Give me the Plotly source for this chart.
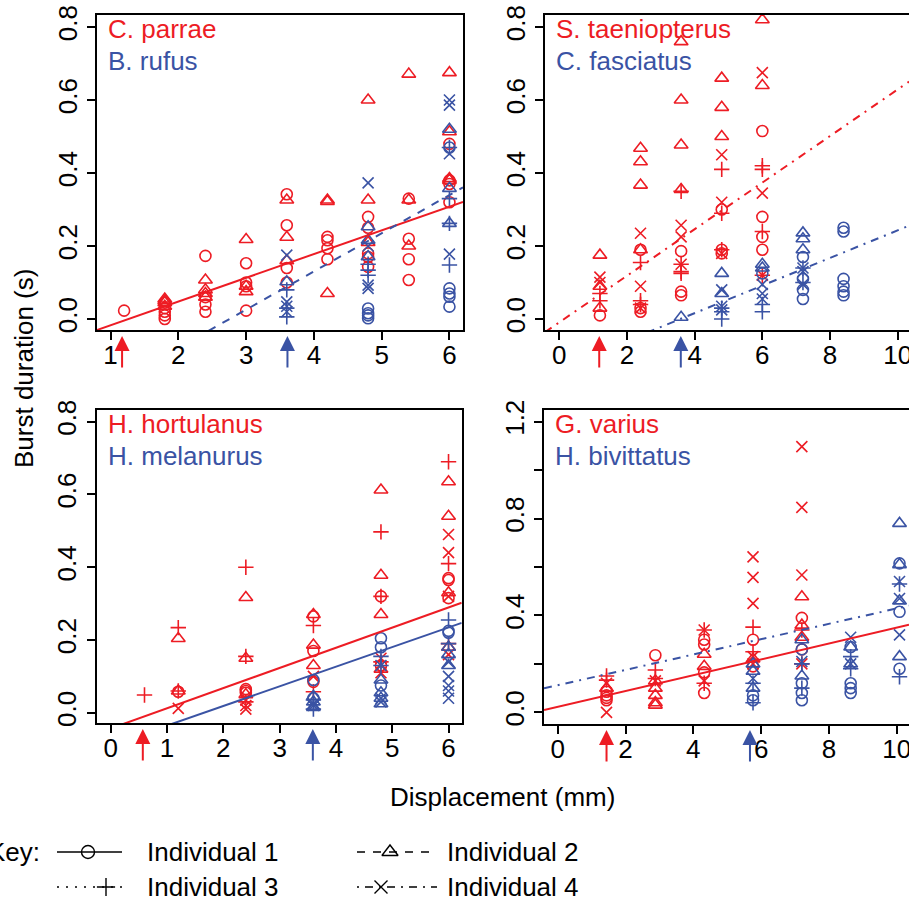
import plotly.graph_objects as go

W, H = 909, 903
RED = "#ED1C24"
BLUE = "#3A53A4"
FONT = "Liberation Sans, Arial, Helvetica, sans-serif"
FS = 26

# ---------------- data ----------------
# Panel 1: C. parrae (red) / B. rufus (blue)
P1_X = [1.2, 1.8, 2.4, 3.0, 3.6, 4.2, 4.8, 5.4, 6.0]
parrae_i1 = [[0.023], [0.0, 0.01, 0.02, 0.03, 0.045], [0.173, 0.06, 0.04, 0.02], [0.153, 0.1, 0.09, 0.023],
             [0.342, 0.257, 0.14, 0.1], [0.225, 0.216, 0.194, 0.164], [0.28, 0.25, 0.18, 0.143, 0.17],
             [0.33, 0.22, 0.164, 0.107], [0.48, 0.38, 0.32, 0.37]]
parrae_i2 = [[], [0.055, 0.045, 0.035, 0.05], [0.107, 0.08, 0.06, 0.07], [0.218, 0.09, 0.075],
             [0.326, 0.224, 0.16], [0.326, 0.322, 0.07], [0.6, 0.326, 0.21], [0.671, 0.326, 0.2],
             [0.675, 0.513, 0.38, 0.385]]
parrae_i3 = [[], [], [], [], [], [], [], [], []]
parrae_i4 = [[], [], [], [], [], [], [], [], []]
rufus_i1 = [[], [], [], [], [], [], [0.029, 0.016, 0.002, 0.01], [], [0.47, 0.084, 0.07, 0.061, 0.034]]
rufus_i2 = [[], [], [], [], [0.102], [], [0.253, 0.216, 0.171], [], [0.52, 0.358, 0.262]]
rufus_i3 = [[], [], [], [], [0.08, 0.006, 0.03], [], [0.134, 0.12, 0.15], [], [0.47, 0.33, 0.148, 0.262]]
rufus_i4 = [[], [], [], [], [0.175, 0.047, 0.035, 0.02], [], [0.373, 0.093, 0.084, 0.2], [],
            [0.6, 0.586, 0.453, 0.178]]

# Panel 2: S. taeniopterus (red) / C. fasciatus (blue)
P2_X = [1.2, 2.4, 3.6, 4.8, 6.0, 7.2, 8.4]
taenio_i1 = [[0.01], [0.02, 0.03, 0.19], [0.186, 0.075, 0.065], [0.3, 0.19, 0.18], [0.515, 0.28, 0.225, 0.19], [], []]
taenio_i2 = [[0.175, 0.09, 0.03], [0.468, 0.431, 0.367, 0.19], [0.76, 0.6, 0.477, 0.355], [0.66, 0.58, 0.5],
             [0.82, 0.64], [], []]
taenio_i3 = [[0.07, 0.05], [0.155, 0.05, 0.04], [0.35, 0.15, 0.125, 0.13], [0.41, 0.29, 0.19],
             [0.42, 0.41, 0.24, 0.12], [], []]
taenio_i4 = [[0.115, 0.1], [0.235, 0.09, 0.03], [0.257, 0.225, 0.15], [0.45, 0.32, 0.18], [0.675, 0.345, 0.12], [], []]
fasc_i1 = [[], [], [], [], [0.125], [0.17, 0.11, 0.08, 0.055], [0.25, 0.24, 0.11, 0.09, 0.075, 0.065]]
fasc_i2 = [[], [], [0.005], [0.125, 0.07], [0.15, 0.14], [0.236, 0.22, 0.19], []]
fasc_i3 = [[], [], [], [0.03, 0.02, 0.0], [0.04, 0.02], [0.14, 0.1], []]
fasc_i4 = [[], [], [], [0.08, 0.035, 0.025], [0.095, 0.07, 0.055], [0.14, 0.13, 0.095], []]

# Panel 3: H. hortulanus (red) / H. melanurus (blue)
P3_X = [0.6, 1.2, 2.4, 3.6, 4.8, 6.0]
hort_i1 = [[], [0.058], [0.065, 0.06, 0.055], [0.265, 0.17, 0.085], [0.32, 0.13], [0.37, 0.365, 0.315]]
hort_i2 = [[], [0.204, 0.06], [0.317, 0.15, 0.05], [0.27, 0.186, 0.13], [0.612, 0.378, 0.27, 0.12],
           [0.635, 0.54, 0.33, 0.18]]
hort_i3 = [[0.049], [0.234, 0.06], [0.40, 0.155, 0.03], [0.24, 0.058], [0.497, 0.32, 0.14], [0.69, 0.41, 0.19]]
hort_i4 = [[], [0.012], [0.035, 0.02, 0.01], [0.1], [0.15, 0.11], [0.49, 0.44, 0.32, 0.16]]
mel_i1 = [[], [], [], [0.09, 0.04], [0.205, 0.18, 0.075], [0.225, 0.22]]
mel_i2 = [[], [], [], [0.045, 0.03, 0.015], [0.09, 0.055, 0.04, 0.025], [0.18, 0.16, 0.13]]
mel_i3 = [[], [], [], [0.035, 0.01], [0.155, 0.13], [0.255, 0.19]]
mel_i4 = [[], [], [], [0.025, 0.02], [0.13, 0.04, 0.03], [0.14, 0.1, 0.075, 0.06, 0.04]]

# Panel 4: G. varius (red) / H. bivittatus (blue)
P4_X = [1.44, 2.88, 4.32, 5.76, 7.2, 8.64, 10.08]
var_i1 = [[0.085, 0.07, 0.06, 0.05], [0.236], [0.3, 0.28, 0.165, 0.08], [0.3, 0.19], [0.39, 0.26], [], []]
var_i2 = [[0.1], [0.13, 0.1, 0.07, 0.04, 0.03], [0.24, 0.19], [0.22], [0.477, 0.36, 0.31], [], []]
var_i3 = [[0.133, 0.15], [0.175, 0.14], [0.34, 0.12], [0.352, 0.25], [0.34, 0.2], [], []]
var_i4 = [[0.12, 0.0], [0.13], [0.34, 0.13], [0.642, 0.557, 0.45, 0.23, 0.2], [1.097, 0.846, 0.567, 0.2], [], []]
biv_i1 = [[], [], [], [0.07, 0.05], [0.26, 0.12, 0.08, 0.05], [0.27, 0.12, 0.1, 0.08], [0.615, 0.415, 0.18]]
biv_i2 = [[], [], [], [0.2, 0.17, 0.1], [0.3, 0.15], [0.27, 0.2], [0.78, 0.61, 0.46, 0.23]]
biv_i3 = [[], [], [], [0.04, 0.12], [0.2, 0.1], [0.18, 0.23], [0.53, 0.147]]
biv_i4 = [[], [], [], [0.14], [0.21], [0.31, 0.2], [0.54, 0.47, 0.32]]

# regression lines (intercept, slope)
fit_parrae, fit_rufus = (-0.082, 0.065), (-0.288, 0.1046)
fit_taenio, fit_fasc = (-0.009, 0.0638), (-0.135, 0.0378)
fit_hort, fit_mel = (-0.043, 0.0554), (-0.089, 0.0539)
fit_var, fit_biv = (0.0226, 0.0327), (0.112, 0.0317)

# arrow positions (red, blue)
arrows_p1 = (1.17, 3.61)
arrows_p2 = (1.18, 3.59)
arrows_p3 = (0.57, 3.59)
arrows_p4 = (1.44, 5.67)

species_names = [("C. parrae", "B. rufus"), ("S. taeniopterus", "C. fasciatus"),
                 ("H. hortulanus", "H. melanurus"), ("G. varius", "H. bivittatus")]
key_labels = ["Individual 1", "Individual 2", "Individual 3", "Individual 4"]

# ---------------- layout geometry (pixels) ----------------
def px(v):
    return v / W

def py(v):
    return 1 - v / H

panels = [
    dict(xd=[px(97), px(463)], yd=[py(330), py(15)], xr=[0.8, 6.2], yr=[-0.030, 0.833],
         xt=[1, 2, 3, 4, 5, 6], yt=[0, 0.2, 0.4, 0.6, 0.8], ytt=["0.0", "0.2", "0.4", "0.6", "0.8"],
         right=True),
    dict(xd=[px(545), 1.0], yd=[py(330), py(15)], xr=[-0.4226, 10.334], yr=[-0.030, 0.833],
         xt=[0, 2, 4, 6, 8, 10], yt=[0, 0.2, 0.4, 0.6, 0.8], ytt=["0.0", "0.2", "0.4", "0.6", "0.8"],
         right=False),
    dict(xd=[px(96.7), px(461.7)], yd=[py(723), py(410)], xr=[-0.249, 6.234], yr=[-0.028, 0.832],
         xt=[0, 1, 2, 3, 4, 5, 6], yt=[0, 0.2, 0.4, 0.6, 0.8], ytt=["0.0", "0.2", "0.4", "0.6", "0.8"],
         right=True),
    dict(xd=[px(544), 1.0], yd=[py(724), py(410)], xr=[-0.404, 10.36], yr=[-0.048, 1.248],
         xt=[0, 2, 4, 6, 8, 10], yt=[0, 0.2, 0.4, 0.6, 0.8, 1.0, 1.2],
         ytt=["0.0", "", "0.4", "", "0.8", "", "1.2"], right=False),
]

series = [
    (P1_X, [parrae_i1, parrae_i2, parrae_i3, parrae_i4], [rufus_i1, rufus_i2, rufus_i3, rufus_i4],
     fit_parrae, fit_rufus, "solid", "8px,8px", arrows_p1),
    (P2_X, [taenio_i1, taenio_i2, taenio_i3, taenio_i4], [fasc_i1, fasc_i2, fasc_i3, fasc_i4],
     fit_taenio, fit_fasc, "8px,6px,2px,6px", "8px,6px,2px,6px", arrows_p2),
    (P3_X, [hort_i1, hort_i2, hort_i3, hort_i4], [mel_i1, mel_i2, mel_i3, mel_i4],
     fit_hort, fit_mel, "solid", "solid", arrows_p3),
    (P4_X, [var_i1, var_i2, var_i3, var_i4], [biv_i1, biv_i2, biv_i3, biv_i4],
     fit_var, fit_biv, "solid", "8px,6px,2px,6px", arrows_p4),
]

SYMBOLS = ["circle-open", "triangle-up-open", "cross-thin-open", "x-thin-open"]
SIZES = [11, 12, 11, 11]

fig = go.Figure()

def expand(cols, groups):
    xs, ys = [], []
    for xv, g in zip(cols, groups):
        for yv in g:
            xs.append(xv)
            ys.append(yv)
    return xs, ys

annotations = []
for i, (p, s) in enumerate(zip(panels, series)):
    n = "" if i == 0 else str(i + 1)
    xa, ya = "x" + n, "y" + n
    cols, reds, blues, fr, fb, dr, db, arr = s
    for color, groups in ((RED, reds), (BLUE, blues)):
        for k, g in enumerate(groups):
            xs, ys = expand(cols, g)
            if not xs:
                continue
            fig.add_trace(go.Scatter(
                x=xs, y=ys, mode="markers", xaxis=xa, yaxis=ya, showlegend=False,
                marker=dict(symbol=SYMBOLS[k], size=SIZES[k], color=color,
                            line=dict(color=color, width=1.6))))
    for color, fit, dash in ((RED, fr, dr), (BLUE, fb, db)):
        x0, x1 = p["xr"]
        fig.add_trace(go.Scatter(
            x=[x0, x1], y=[fit[0] + fit[1] * x0, fit[0] + fit[1] * x1], mode="lines",
            xaxis=xa, yaxis=ya, showlegend=False,
            line=dict(color=color, width=2, dash=dash)))
    # arrows below the x axis (tip 7 px under the axis line)
    bottom_px = (1 - p["yd"][0]) * H
    for color, xv in ((RED, arr[0]), (BLUE, arr[1])):
        annotations.append(dict(x=xv, y=py(bottom_px + 6), xref=xa, yref="paper", ax=0, ay=32,
                                axref="pixel", ayref="pixel", text="", showarrow=True, arrowhead=2,
                                arrowsize=1.5, arrowwidth=2, arrowcolor=color, borderpad=0,
                                font=dict(size=1)))
    # species names
    top_px = (1 - p["yd"][1]) * H
    left_px = p["xd"][0] * W
    annotations.append(dict(x=px(left_px + 9), y=py(top_px + 14), xref="paper", yref="paper",
                            text=species_names[i][0], showarrow=False, xanchor="left", yanchor="middle",
                            font=dict(family=FONT, size=FS, color=RED)))
    annotations.append(dict(x=px(left_px + 9), y=py(top_px + 46), xref="paper", yref="paper",
                            text=species_names[i][1], showarrow=False, xanchor="left", yanchor="middle",
                            font=dict(family=FONT, size=FS, color=BLUE)))

    axis_common = dict(showline=True, linewidth=2, linecolor="black", ticks="outside", ticklen=8,
                       tickwidth=2, tickcolor="black", showgrid=False, zeroline=False,
                       ticklabeloverflow="allow",
                       tickfont=dict(family=FONT, size=FS, color="black"))
    fig.update_layout(**{
        "xaxis" + n: dict(domain=p["xd"], range=p["xr"], anchor=ya, tickvals=p["xt"],
                          ticktext=[str(t) for t in p["xt"]], mirror=True, ticklabelstandoff=-7,
                          **axis_common),
        "yaxis" + n: dict(domain=p["yd"], range=p["yr"], anchor=xa, tickvals=p["yt"], ticktext=p["ytt"],
                          tickangle=-90, mirror=p["right"], **axis_common),
    })

# Key (overlay pixel axis)
fig.update_layout(
    xaxis5=dict(domain=[0, 1], range=[0, W], visible=False, fixedrange=True, anchor="y5"),
    yaxis5=dict(domain=[0, 1], range=[H, 0], visible=False, fixedrange=True, anchor="x5"),
)
key_rows = [(852, 57, 122, 88, "solid", 0), (852, 357, 437, 390, "8px,8px", 1),
            (887, 57, 122, 106, "2px,7px", 2), (887, 357, 437, 381, "2px,6px,8px,6px", 3)]
for yy, x0, x1, xm, dash, k in key_rows:
    fig.add_trace(go.Scatter(x=[x0, x1], y=[yy, yy], xaxis="x5", yaxis="y5", mode="lines",
                             showlegend=False, line=dict(color="black", width=1.5, dash=dash)))
    fig.add_trace(go.Scatter(x=[xm], y=[yy], xaxis="x5", yaxis="y5", mode="markers", showlegend=False,
                             marker=dict(symbol=SYMBOLS[k], size=SIZES[k] + 2, color="black",
                                         line=dict(color="black", width=1.4))))
key_text_pos = [(145, 852), (445, 852), (145, 887), (445, 887)]
for (tx, ty), lab in zip(key_text_pos, key_labels):
    annotations.append(dict(x=px(tx), y=py(ty), xref="paper", yref="paper", text=lab, showarrow=False,
                            xanchor="left", yanchor="middle", font=dict(family=FONT, size=FS, color="black")))
annotations.append(dict(x=px(42), y=py(852), xref="paper", yref="paper", text="Key:", showarrow=False,
                        xanchor="right", yanchor="middle", font=dict(family=FONT, size=FS, color="black")))
annotations.append(dict(x=px(503), y=py(797), xref="paper", yref="paper", text="Displacement (mm)",
                        showarrow=False, xanchor="center", yanchor="middle",
                        font=dict(family=FONT, size=FS, color="black")))
annotations.append(dict(x=px(24), y=py(369), xref="paper", yref="paper", text="Burst duration (s)",
                        showarrow=False, xanchor="center", yanchor="middle", textangle=-90,
                        font=dict(family=FONT, size=FS, color="black")))

fig.update_layout(width=W, height=H, margin=dict(l=0, r=0, t=0, b=0, autoexpand=False),
                  paper_bgcolor="white", plot_bgcolor="rgba(0,0,0,0)", showlegend=False,
                  annotations=annotations, font=dict(family=FONT, size=FS, color="black"))

fig.write_html("out.html")
